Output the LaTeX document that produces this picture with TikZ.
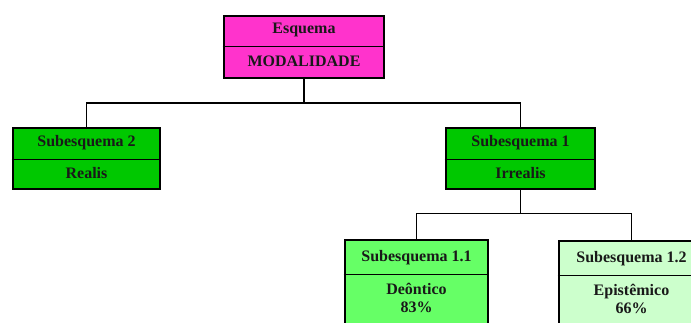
\documentclass[tikz,border=0pt]{standalone}
\usepackage{fontspec}
\setmainfont{Liberation Serif}
\definecolor{magbox}{HTML}{FF33CC}
\definecolor{grnbox}{HTML}{00C800}
\definecolor{ltgrn}{HTML}{66FF66}
\definecolor{palegrn}{HTML}{CCFFCC}
\begin{document}
\begin{tikzpicture}[x=1pt,y=-1pt,
  boxframe/.style={draw=black,line width=2.8pt,inner sep=0pt,rectangle},
  lbl/.style={font=\fontsize{16}{18}\selectfont\bfseries,inner sep=0pt,align=center,text=black!90},
  divider/.style={line width=0.9pt},
  conn/.style={line width=1.4pt}]
\useasboundingbox (0,0) rectangle (691,322);
\clip (0,0) rectangle (691,322);
% boxes
\node[boxframe,fill=magbox,minimum width=160pt,minimum height=62pt] (top) at (304,47) {};
\node[boxframe,fill=grnbox,minimum width=147pt,minimum height=61pt] (s2) at (86.5,158.5) {};
\node[boxframe,fill=grnbox,minimum width=149pt,minimum height=61pt] (s1) at (520.5,158.5) {};
\node[boxframe,fill=ltgrn,minimum width=143pt,minimum height=120pt] (s11) at (416.5,300) {};
\node[boxframe,fill=palegrn,minimum width=145pt,minimum height=120pt] (s12) at (631.5,301) {};
% dividers
\draw[divider] (top.west |- 0,46) -- (top.east |- 0,46);
\draw[divider] (s2.west |- 0,159.5) -- (s2.east |- 0,159.5);
\draw[divider] (s1.west |- 0,159.5) -- (s1.east |- 0,159.5);
\draw[divider] (s11.west |- 0,274) -- (s11.east |- 0,274);
\draw[divider] (s12.west |- 0,275) -- (s12.east |- 0,275);
% labels
\node[lbl] (tA) at (304,30) {Esquema};
\node[lbl] (tB) at (304,61.5) {MODALIDADE};
\node[lbl] (s2A) at (86.5,142.5) {Subesquema 2};
\node[lbl] (s2B) at (86.5,173) {Realis};
\node[lbl] (s1A) at (520.5,142.5) {Subesquema 1};
\node[lbl] (s1B) at (520.5,173) {Irrealis};
\node[lbl] (s11A) at (416.5,258) {Subesquema 1.1};
\node[lbl,font=\fontsize{16}{18.5}\selectfont\bfseries] (s11B) at (416.5,298) {Deôntico\\83\%};
\node[lbl] (s12A) at (631.5,259) {Subesquema 1.2};
\node[lbl,font=\fontsize{16}{18.5}\selectfont\bfseries] (s12B) at (631.5,299) {Epistêmico\\66\%};
% connectors
\coordinate (j1) at (304,103);
\coordinate (j2) at (520.5,213.5);
\draw[conn] (top.south) -- (j1);
\draw[conn] (j1) -| (s2.north);
\draw[conn] (j1) -| (s1.north);
\draw[conn] (s1.south) -- (j2);
\draw[conn] (j2) -| (s11.north);
\draw[conn] (j2) -| (s12.north);
\end{tikzpicture}
\end{document}
